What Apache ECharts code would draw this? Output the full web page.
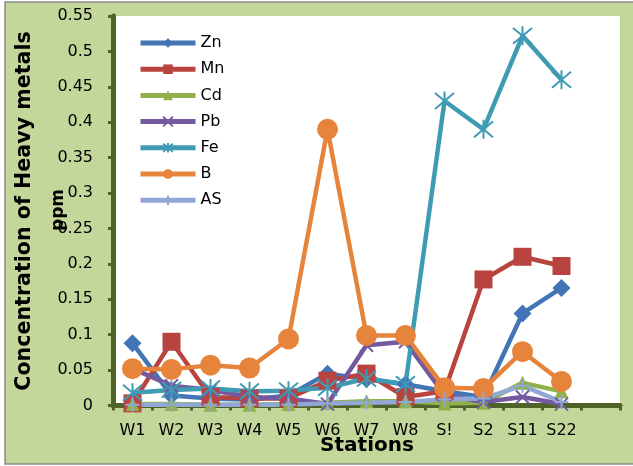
<!DOCTYPE html>
<html>
<head>
<meta charset="utf-8">
<script src="https://cdn.jsdelivr.net/npm/echarts@6/dist/echarts.min.js"></script>
<style>
  html, body { margin: 0; padding: 0; background: #ffffff; }
  #chart { width: 633px; height: 466px; }
</style>
</head>
<body>
<div id="chart"></div>
<script>
// Sampling stations (last slot left blank, as on the original category axis)
const stations = ['W1', 'W2', 'W3', 'W4', 'W5', 'W6', 'W7', 'W8', 'S!', 'S2', 'S11', 'S22', ''];

// Heavy metal concentrations, ppm
const zn = [0.088, 0.014, 0.010, 0.008, 0.014, 0.045, 0.037, 0.030, 0.020, 0.012, 0.130, 0.166, null];
const mn = [0.003, 0.090, 0.012, 0.010, 0.010, 0.035, 0.045, 0.012, 0.020, 0.178, 0.210, 0.197, null];
const cd = [0.002, 0.002, 0.001, 0.001, 0.002, 0.004, 0.006, 0.006, 0.003, 0.004, 0.032, 0.020, null];
const pb = [0.052, 0.028, 0.022, 0.012, 0.010, 0.002, 0.085, 0.090, 0.015, 0.005, 0.012, 0.002, null];
const fe = [0.018, 0.022, 0.024, 0.020, 0.021, 0.025, 0.038, 0.030, 0.430, 0.390, 0.522, 0.460, null];
const b  = [0.052, 0.051, 0.057, 0.053, 0.094, 0.390, 0.099, 0.099, 0.025, 0.024, 0.076, 0.034, null];
const as = [0.001, 0.001, 0.001, 0.001, 0.001, 0.003, 0.004, 0.005, 0.009, 0.010, 0.028, 0.005, null];

// Value axis ticks
const yMin = 0, yMax = 0.55, yStep = 0.05;

const FONT = 'DejaVu Sans';
const AXIS_COLOR = '#4f6228';

const SYM_X = 'path://M0,0L10,10M10,0L0,10';
const SYM_STAR = 'path://M1,1L11,11M11,1L1,11M6,0L6,12';
const SYM_PLUS = 'path://M5,0L5,10M0,5L10,5';

function metal(name, data, color, symbol, size, stroked) {
  return {
    name: name,
    type: 'line',
    data: data,
    symbol: symbol,
    symbolSize: size,
    showAllSymbol: true,
    connectNulls: false,
    lineStyle: { color: color, width: 4.5 },
    itemStyle: stroked
      ? { color: 'rgba(0,0,0,0)', borderColor: color, borderWidth: 2 }
      : { color: color, borderColor: color, borderWidth: 0 },
    emphasis: { disabled: true },
    animation: false
  };
}

const chart = echarts.init(document.getElementById('chart'), null, { renderer: 'canvas' });

chart.setOption({
  animation: false,
  textStyle: { fontFamily: FONT },
  graphic: [
    {
      type: 'rect', z: -10,
      shape: { x: 5, y: 2, width: 640, height: 462 },
      style: { fill: '#c4d79b', stroke: '#8a8a8a', lineWidth: 1.5 }
    },
    {
      type: 'text', z: 10,
      x: 25, y: 211, rotation: Math.PI / 2,
      style: {
        text: 'Concentration of Heavy metals',
        font: 'bold 20.6px "' + FONT + '"',
        fill: '#000', textAlign: 'center', textVerticalAlign: 'middle'
      }
    },
    {
      type: 'text', z: 10,
      x: 59, y: 210, rotation: Math.PI / 2,
      style: {
        text: 'ppm',
        font: 'bold 17px "' + FONT + '"',
        fill: '#000', textAlign: 'center', textVerticalAlign: 'middle'
      }
    },
    {
      type: 'text', z: 10,
      x: 367, y: 446,
      style: {
        text: 'Stations',
        font: 'bold 20px "' + FONT + '"',
        fill: '#000', textAlign: 'center', textVerticalAlign: 'middle'
      }
    }
  ],
  grid: {
    left: 113, right: 13, top: 16, bottom: 60.5,
    show: true, backgroundColor: '#ffffff', borderWidth: 0,
    containLabel: false
  },
  legend: {
    orient: 'vertical',
    left: 138, top: 35, padding: 0,
    itemWidth: 55, itemHeight: 12, itemGap: 10.2,
    lineStyle: { width: 5 },
    textStyle: { fontFamily: FONT, fontSize: 16, color: '#000' },
    data: ['Zn', 'Mn', 'Cd', 'Pb', 'Fe', 'B', 'AS']
  },
  xAxis: {
    type: 'category',
    data: stations,
    boundaryGap: true,
    axisLine: { lineStyle: { color: AXIS_COLOR, width: 5 } },
    axisTick: { show: true, length: 5, lineStyle: { color: AXIS_COLOR, width: 3 } },
    axisLabel: { fontFamily: FONT, fontSize: 16, color: '#000', margin: 17, interval: 0 },
    splitLine: { show: false }
  },
  yAxis: {
    type: 'value',
    min: yMin, max: yMax, interval: yStep,
    axisLine: { show: true, lineStyle: { color: AXIS_COLOR, width: 5 } },
    axisTick: { show: true, length: 5, lineStyle: { color: AXIS_COLOR, width: 3 } },
    axisLabel: { fontFamily: FONT, fontSize: 16, color: '#000', margin: 20 },
    splitLine: { show: false }
  },
  series: [
    metal('Zn', zn, '#4275b5', 'diamond', 18, false),
    metal('Mn', mn, '#b9433f', 'rect', 18, false),
    metal('Cd', cd, '#8fb04a', 'triangle', 14, false),
    metal('Pb', pb, '#7458a0', SYM_X, 13, true),
    metal('Fe', fe, '#3f9bb3', SYM_STAR, 19, true),
    metal('B', b, '#e5843a', 'circle', 21, false),
    metal('AS', as, '#91a8d6', SYM_PLUS, 14, true)
  ]
});
</script>
</body>
</html>
